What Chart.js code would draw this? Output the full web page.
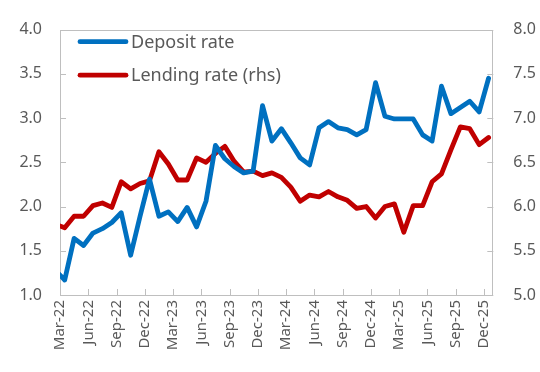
<!DOCTYPE html>
<html>
<head>
<meta charset="utf-8">
<script src="https://cdn.jsdelivr.net/npm/chart.js@4.4.1/dist/chart.umd.min.js"></script>
<style>
    html, body { margin: 0; padding: 0; background: #ffffff; }
    #wrap { width: 540px; height: 372px; position: relative; }
</style>
</head>
<body>
<div id="wrap"><canvas id="ratesChart"></canvas></div>
<script>
// monthly series, Feb-22 .. Dec-25 (Feb-22 sits just left of the axis and gets clipped)
const months = [
    'Feb-22', 'Mar-22', 'Apr-22', 'May-22', 'Jun-22', 'Jul-22', 'Aug-22', 'Sep-22', 'Oct-22', 'Nov-22', 'Dec-22',
    'Jan-23', 'Feb-23', 'Mar-23', 'Apr-23', 'May-23', 'Jun-23', 'Jul-23', 'Aug-23', 'Sep-23', 'Oct-23', 'Nov-23', 'Dec-23',
    'Jan-24', 'Feb-24', 'Mar-24', 'Apr-24', 'May-24', 'Jun-24', 'Jul-24', 'Aug-24', 'Sep-24', 'Oct-24', 'Nov-24', 'Dec-24',
    'Jan-25', 'Feb-25', 'Mar-25', 'Apr-25', 'May-25', 'Jun-25', 'Jul-25', 'Aug-25', 'Sep-25', 'Oct-25', 'Nov-25', 'Dec-25'
];

const depositRate = [
    1.28, 1.17, 1.64, 1.56, 1.70, 1.75, 1.82, 1.93, 1.45, 1.89, 2.31,
    1.89, 1.94, 1.83, 1.99, 1.77, 2.06, 2.69, 2.54, 2.45, 2.38, 2.40, 3.14,
    2.74, 2.88, 2.72, 2.55, 2.47, 2.89, 2.96, 2.89, 2.87, 2.81, 2.87, 3.40,
    3.02, 2.99, 2.99, 2.99, 2.81, 2.74, 3.36, 3.05, 3.12, 3.19, 3.07, 3.45
];

const lendingRate = [
    5.80, 5.76, 5.89, 5.89, 6.01, 6.04, 5.99, 6.28, 6.20, 6.26, 6.29,
    6.62, 6.48, 6.30, 6.30, 6.55, 6.50, 6.60, 6.68, 6.51, 6.39, 6.40, 6.35,
    6.38, 6.33, 6.22, 6.06, 6.13, 6.11, 6.17, 6.11, 6.07, 5.98, 6.00, 5.87,
    6.00, 6.03, 5.71, 6.01, 6.01, 6.28, 6.37, 6.64, 6.90, 6.88, 6.70, 6.78
];

const tickLabels = ['Mar-22', 'Jun-22', 'Sep-22', 'Dec-22', 'Mar-23', 'Jun-23', 'Sep-23', 'Dec-23',
                    'Mar-24', 'Jun-24', 'Sep-24', 'Dec-24', 'Mar-25', 'Jun-25', 'Sep-25', 'Dec-25'];

const seriesNames = ['Deposit rate', 'Lending rate (rhs)'];
const seriesColors = ['#0070C0', '#C00000'];

document.addEventListener('DOMContentLoaded', function() {

    const axisColor = '#BFBFBF';
    const textColor = '#595959';
    const fontFamily = '"Noto Sans", "Open Sans", sans-serif';

    // points sit mid-month, month boundaries are at half steps
    const toPoints = arr => arr.map((v, i) => ({ x: i, y: v }));
    const tickPos = tickLabels.map(l => months.indexOf(l) - 0.5);

    // frame + inward tick marks
    const framePlugin = {
        id: 'frame',
        beforeDatasetsDraw(chart) {
            const { ctx, chartArea: a, scales } = chart;
            const len = 6;
            ctx.save();
            ctx.strokeStyle = axisColor;
            ctx.lineWidth = 1;
            ctx.strokeRect(Math.round(a.left) + 0.5, Math.round(a.top) + 0.5,
                           Math.round(a.right - a.left) - 1, Math.round(a.bottom - a.top));
            ctx.beginPath();
            scales.y.ticks.forEach(t => {
                const y = Math.round(scales.y.getPixelForValue(t.value)) + 0.5;
                ctx.moveTo(a.left, y); ctx.lineTo(a.left + len, y);
            });
            scales.y1.ticks.forEach(t => {
                const y = Math.round(scales.y1.getPixelForValue(t.value)) + 0.5;
                ctx.moveTo(a.right, y); ctx.lineTo(a.right - len, y);
            });
            scales.x.ticks.forEach(t => {
                const x = Math.round(scales.x.getPixelForValue(t.value)) + 0.5;
                ctx.moveTo(x, a.bottom); ctx.lineTo(x, a.bottom - len);
            });
            ctx.stroke();
            ctx.restore();
        },
        afterDraw(chart) {
            // legend inside the plot, top left
            const ctx = chart.ctx;
            ctx.save();
            chart.data.datasets.forEach((ds, i) => {
                const y = 41.7 + i * 33.5;
                ctx.strokeStyle = ds.borderColor;
                ctx.lineWidth = 4.8;
                ctx.lineCap = 'round';
                ctx.beginPath();
                ctx.moveTo(80, y); ctx.lineTo(126, y);
                ctx.stroke();
                ctx.fillStyle = textColor;
                ctx.font = '18px ' + fontFamily;
                ctx.textBaseline = 'middle';
                ctx.textAlign = 'left';
                ctx.fillText(ds.label, 131, y + 1);
            });
            ctx.restore();
        }
    };

    const ratesCtx = document.getElementById('ratesChart');
    new Chart(ratesCtx, {
        type: 'line',
        data: {
            datasets: [
                {
                    label: seriesNames[0],
                    data: toPoints(depositRate),
                    yAxisID: 'y',
                    borderColor: seriesColors[0],
                    borderWidth: 4.8,
                    pointRadius: 0,
                    tension: 0,
                    borderJoinStyle: 'round',
                    borderCapStyle: 'round',
                    clip: { left: 0, right: 10, top: 10, bottom: 10 }
                },
                {
                    label: seriesNames[1],
                    data: toPoints(lendingRate),
                    yAxisID: 'y1',
                    borderColor: seriesColors[1],
                    borderWidth: 4.8,
                    pointRadius: 0,
                    tension: 0,
                    borderJoinStyle: 'round',
                    borderCapStyle: 'round',
                    clip: { left: 0, right: 10, top: 10, bottom: 10 }
                }
            ]
        },
        options: {
            responsive: true,
            maintainAspectRatio: false,
            animation: false,
            layout: { padding: { top: 16.7, left: 0, right: 0, bottom: 0 } },
            plugins: {
                legend: { display: false },
                tooltip: { enabled: false }
            },
            scales: {
                x: {
                    type: 'linear',
                    min: 0.5,
                    max: months.length - 0.5,
                    grid: { display: false, drawTicks: false },
                    border: { display: false },
                    afterBuildTicks: function(scale) {
                        scale.ticks = tickPos.map(v => ({ value: v }));
                    },
                    afterFit: function(scale) { scale.height = 77; },
                    ticks: {
                        autoSkip: false,
                        minRotation: 90,
                        maxRotation: 90,
                        padding: 5,
                        color: textColor,
                        font: { family: fontFamily, size: 15 },
                        callback: function(value) {
                            return months[Math.round(value + 0.5)];
                        }
                    }
                },
                y: {
                    position: 'left',
                    min: 1,
                    max: 4,
                    grid: { display: false, drawTicks: false },
                    border: { display: false },
                    afterFit: function(scale) { scale.width = 60; },
                    ticks: {
                        stepSize: 0.5,
                        padding: 18,
                        color: textColor,
                        font: { family: fontFamily, size: 16 },
                        callback: function(value) { return value.toFixed(1); }
                    }
                },
                y1: {
                    position: 'right',
                    min: 5,
                    max: 8,
                    grid: { display: false, drawTicks: false },
                    border: { display: false },
                    afterFit: function(scale) { scale.width = 46.7; },
                    ticks: {
                        stepSize: 0.5,
                        padding: 20,
                        color: textColor,
                        font: { family: fontFamily, size: 16 },
                        callback: function(value) { return value.toFixed(1); }
                    }
                }
            }
        },
        plugins: [framePlugin]
    });

});
</script>
</body>
</html>
